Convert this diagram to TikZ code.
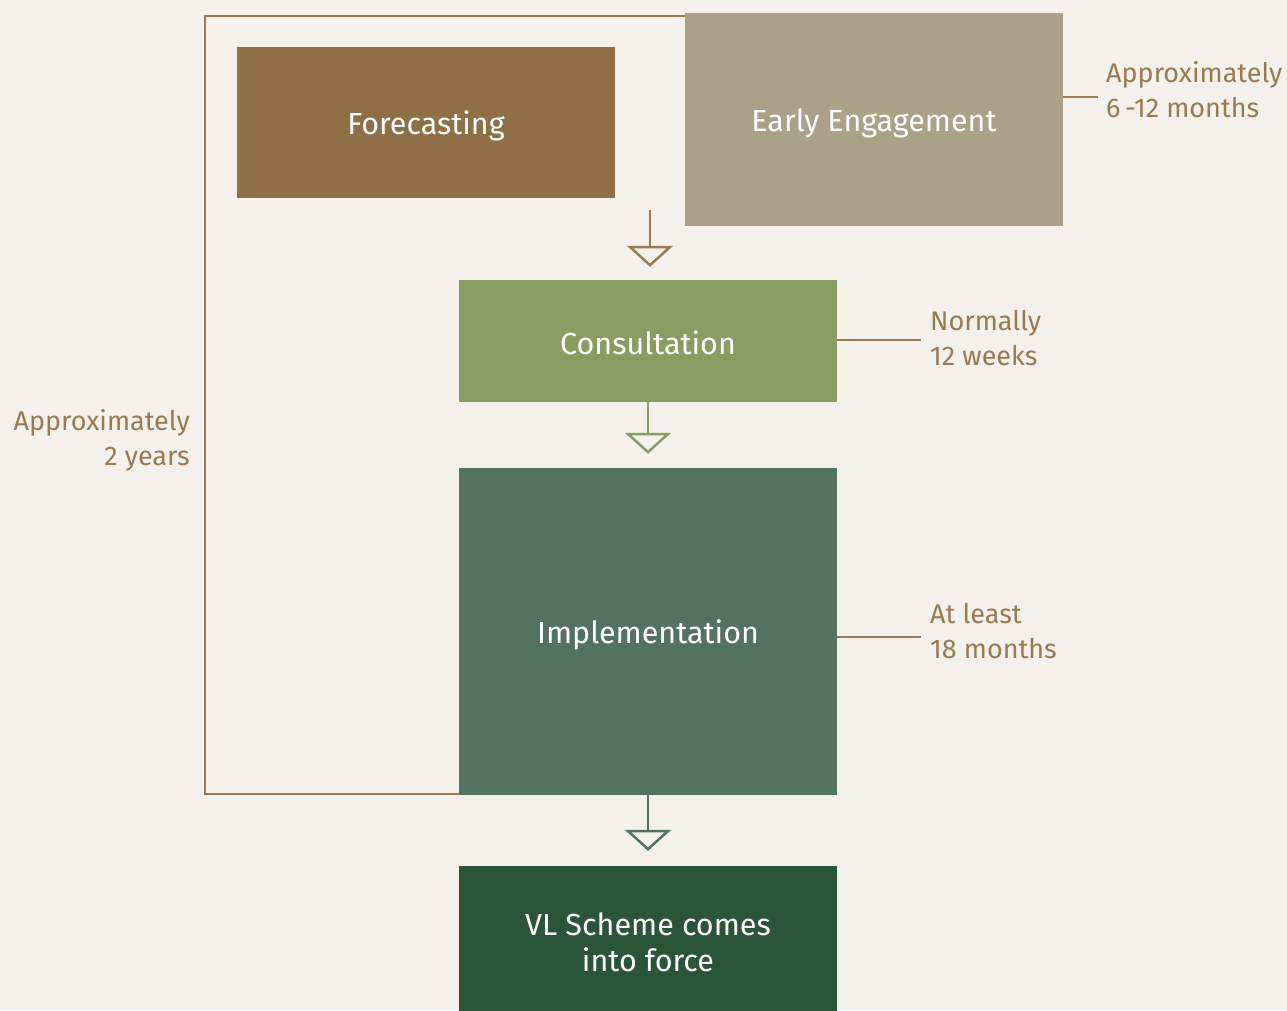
\documentclass[tikz,border=0pt]{standalone}
\usepackage{fontspec}
\setmainfont{Fira Sans}
\usetikzlibrary{arrows.meta}
\definecolor{paper}{HTML}{F4F1EC}
\definecolor{brownline}{HTML}{9A7A4F}
\definecolor{forecast}{HTML}{8F6F45}
\definecolor{early}{HTML}{ABA088}
\definecolor{consult}{HTML}{899D62}
\definecolor{implement}{HTML}{547262}
\definecolor{inforce}{HTML}{2B5537}
\tikzset{
  stagebox/.style={draw=none, fill=#1, text=white, minimum width=378pt,
    inner sep=0pt, align=center, font=\fontsize{30.5}{36}\selectfont},
  note/.style={text=brownline, inner sep=0pt, font=\fontsize{27}{35}\selectfont},
  tick/.style={draw=brownline, line width=2.5pt},
  flow/.style={draw=#1, line width=2.5pt,
    -{Triangle[open, width=46pt, length=21pt, line width=2.5pt]}},
}
\begin{document}
\begin{tikzpicture}[x=1pt, y=-1pt]
  \fill[paper] (0,0) rectangle (1287,1010);
  \useasboundingbox (0,0) rectangle (1287,1010);

  % overall loop around the whole process
  \coordinate (loopA) at (685,16);
  \coordinate (loopB) at (205,16);
  \coordinate (loopC) at (205,794);
  \coordinate (loopD) at (459,794);
  \draw[tick, line cap=rect] (loopA) -- (loopB) -- (loopC) -- (loopD);

  % stages
  \node[stagebox=forecast, minimum height=151pt] (fc) at (426,122.5) {};
  \node[stagebox=early, minimum height=213pt] (ee) at (874,119.5) {};
  \node[stagebox=consult, minimum height=122pt] (co) at (648,341) {};
  \node[stagebox=implement, minimum height=327pt] (im) at (648,631.5) {};
  \node[stagebox=inforce, minimum height=156pt] (vl) at (648,944) {};

  % stage titles
  \node[stagebox=none, minimum width=0pt] (fcT) at (426,126) {Forecasting};
  \node[stagebox=none, minimum width=0pt] (eeT) at (874,123) {Early Engagement};
  \node[stagebox=none, minimum width=0pt] (coT) at (648,343) {Consultation};
  \node[stagebox=none, minimum width=0pt] (imT) at (648,635) {Implementation};
  \node[stagebox=none, minimum width=0pt] (vlT) at (648,942) {VL Scheme comes\\into force};

  % arrows between stages
  \coordinate (start) at (650,210);
  \draw[flow=brownline, shorten >=13pt] (start) -- (start |- co.north);
  \draw[flow=consult, shorten >=14pt] (co.south) -- (im.north);
  \draw[flow=implement, shorten >=15pt] (im.south) -- (vl.north);

  % durations
  \coordinate (eeK) at (1098,97);
  \draw[tick] (ee.east |- eeK) -- (eeK);
  \node[note, anchor=west, align=left] (eeL) at (1106,90) {Approximately\\6\,-12 months};

  \coordinate (coK) at (921,340);
  \draw[tick] (co.east |- coK) -- (coK);
  \node[note, anchor=west, align=left] (coL) at (930,338) {Normally\\12 weeks};

  \coordinate (imK) at (921,637);
  \draw[tick] (im.east |- imK) -- (imK);
  \node[note, anchor=west, align=left] (imL) at (930,631) {At least\\18 months};

  \node[note, anchor=east, align=right] (loopL) at (190,440) {Approximately\\2 years};
\end{tikzpicture}
\end{document}
